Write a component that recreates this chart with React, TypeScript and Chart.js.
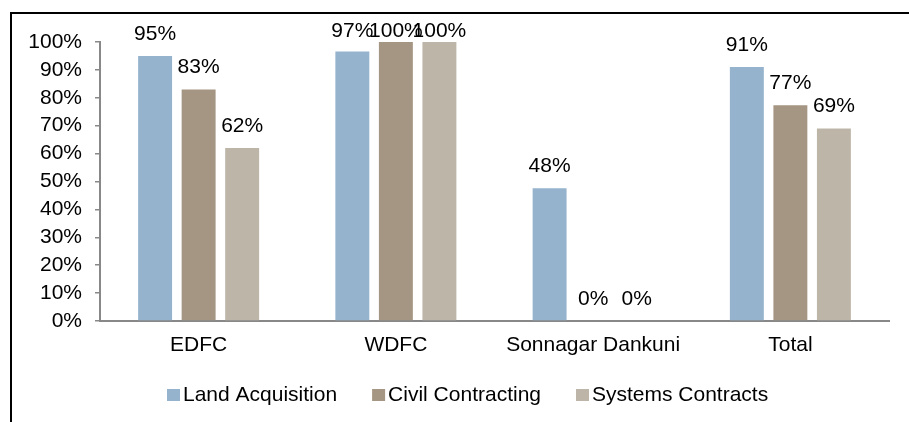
import React, { useEffect, useRef } from 'react';
import { Chart, registerables } from 'chart.js';

Chart.register(...registerables);

const categories = ['EDFC', 'WDFC', 'Sonnagar Dankuni', 'Total'];
const seriesNames = ['Land Acquisition', 'Civil Contracting', 'Systems Contracts'];
const landAcquisition = [0.95, 0.966, 0.476, 0.91];
const civilContracting = [0.83, 1.0, 0, 0.773];
const systemsContracts = [0.62, 1.0, 0, 0.69];
const seriesColors = ['#95B3CD', '#A59583', '#BEB5A9'];

const FONT = '"Liberation Sans", Arial, sans-serif';
const FS = 21;

const frameAndLabels = {
  id: 'frameAndLabels',
  beforeDraw(chart: any) {
    const ctx = chart.ctx;
    ctx.save();
    ctx.fillStyle = '#ffffff';
    ctx.fillRect(0, 0, chart.width, chart.height);
    ctx.restore();
  },
  afterDatasetsDraw(chart: any) {
    const ctx = chart.ctx;
    ctx.save();
    ctx.font = `${FS}px ${FONT}`;
    ctx.fillStyle = '#000000';
    ctx.textAlign = 'center';
    ctx.textBaseline = 'middle';
    chart.data.datasets.forEach((ds: any, i: number) => {
      const meta = chart.getDatasetMeta(i);
      meta.data.forEach((bar: any, j: number) => {
        const v = ds.data[j] as number;
        const y = Math.max(bar.y - 22, 31);
        ctx.fillText(Math.round(v * 100) + '%', bar.x, y);
      });
    });
    ctx.restore();
  },
  afterDraw(chart: any) {
    const ctx = chart.ctx;
    ctx.save();
    // frame
    ctx.fillStyle = '#000000';
    ctx.fillRect(10, 12, 899, 2);
    ctx.fillRect(10, 12, 2, 410);
    // legend
    ctx.font = `${FS}px ${FONT}`;
    ctx.textBaseline = 'middle';
    ctx.textAlign = 'left';
    let x = 167;
    const cy = 395;
    chart.data.datasets.forEach((ds: any) => {
      ctx.fillStyle = ds.backgroundColor;
      ctx.fillRect(x, cy - 6, 13, 12);
      ctx.fillStyle = '#000000';
      ctx.fillText(ds.label, x + 16, cy);
      x += 16 + ctx.measureText(ds.label).width + 35;
    });
    ctx.restore();
  },
};

export default function App() {
  const ref = useRef<HTMLCanvasElement | null>(null);
  useEffect(() => {
    if (!ref.current) return;
    const values = [landAcquisition, civilContracting, systemsContracts];
    const chart = new Chart(ref.current, {
      type: 'bar',
      data: {
        labels: categories,
        datasets: seriesNames.map((name, i) => ({
          label: name,
          data: values[i],
          backgroundColor: seriesColors[i],
          borderWidth: 0,
          categoryPercentage: 0.662,
          barPercentage: 0.78,
        })),
      },
      options: {
        responsive: false,
        animation: false,
        devicePixelRatio: 1,
        layout: { padding: { left: 0, right: 20, top: 42, bottom: 61 } },
        plugins: {
          legend: { display: false },
          tooltip: { enabled: false },
        },
        scales: {
          x: {
            afterFit: (s: any) => { s.height = 40; },
            grid: { display: false, drawTicks: false },
            border: { display: true, color: '#888888', width: 2 },
            ticks: { color: '#000000', padding: 12, font: { family: FONT, size: FS }, maxRotation: 0, autoSkip: false },
          },
          y: {
            min: 0,
            max: 1,
            afterFit: (s: any) => { s.width = 100; },
            grid: { drawOnChartArea: false, drawTicks: true, tickLength: 5, color: '#888888', lineWidth: 1.5 },
            border: { display: true, color: '#888888', width: 2 },
            ticks: {
              stepSize: 0.1,
              autoSkip: false,
              maxTicksLimit: 20,
              color: '#000000',
              padding: 13,
              font: { family: FONT, size: FS },
              callback: (v: any) => Math.round(Number(v) * 100) + '%',
            },
          },
        },
      },
      plugins: [frameAndLabels],
    });
    return () => chart.destroy();
  }, []);
  return (
    <div style={{ position: 'absolute', left: 0, top: 0, width: 909, height: 422, background: '#fff' }}>
      <canvas ref={ref} width={909} height={422} style={{ display: 'block', width: 909, height: 422 }} />
    </div>
  );
}
